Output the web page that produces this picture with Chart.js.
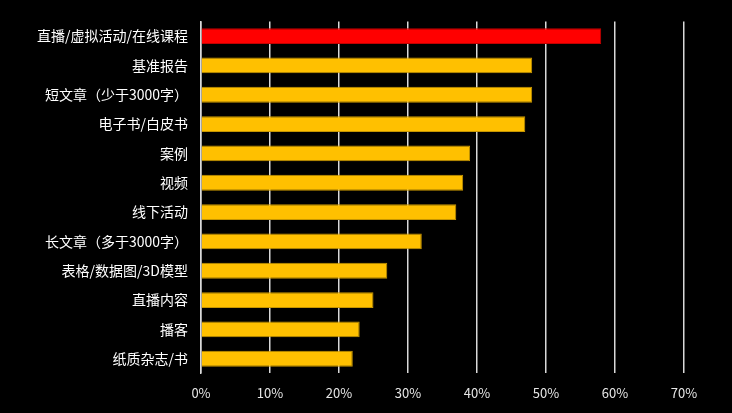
<!DOCTYPE html>
<html>
<head>
  <meta charset="utf-8">
  <title>内容形式</title>
  <script type="text/javascript" src="https://cdn.jsdelivr.net/npm/chart.js"></script>
  <style>
    html, body { margin: 0; padding: 0; background: #000; }
    #chart-container { width: 732px; height: 413px; }
  </style>
</head>
<body>
  <div id="chart-container">
    <canvas id="content-chart"></canvas>
  </div>

  <script type="text/javascript">
    const categories = [
      "直播/虚拟活动/在线课程",
      "基准报告",
      "短文章（少于3000字）",
      "电子书/白皮书",
      "案例",
      "视频",
      "线下活动",
      "长文章（多于3000字）",
      "表格/数据图/3D模型",
      "直播内容",
      "播客",
      "纸质杂志/书"
    ];
    const shares = [58, 48, 48, 47, 39, 38, 37, 32, 27, 25, 23, 22];
    const tickValues = [0, 10, 20, 30, 40, 50, 60, 70];

    const fontFamily = '"Microsoft YaHei", "Noto Sans CJK SC", sans-serif';

    var fills = shares.map((v, i) => i === 0 ? "#ff0000" : "#ffc000");
    var edges = shares.map((v, i) => i === 0 ? "#c00000" : "#c69500");

    const ctx = document.getElementById("content-chart");
    new Chart(ctx, {
      type: "bar",
      data: {
        labels: categories,
        datasets: [{
          data: shares,
          backgroundColor: fills,
          borderColor: edges,
          borderWidth: 1,
          categoryPercentage: 1.0,
          barPercentage: 0.54
        }]
      },
      options: {
        indexAxis: "y",
        responsive: true,
        maintainAspectRatio: false,
        animation: false,
        layout: {
          padding: { left: 24, right: 48, top: 20, bottom: 0 }
        },
        plugins: {
          legend: { display: false },
          tooltip: { enabled: false }
        },
        scales: {
          x: {
            min: 0,
            max: 70,
            afterBuildTicks: function(axis) {
              axis.ticks = tickValues.map(v => ({ value: v }));
            },
            grid: {
              color: "#d9d9d9",
              lineWidth: 1.5,
              drawTicks: false
            },
            border: { display: false },
            ticks: {
              color: "#e6e6e6",
              padding: 12,
              font: { family: fontFamily, size: 13 },
              callback: function(value) { return value + "%"; }
            }
          },
          y: {
            grid: { display: false, drawTicks: false },
            border: { display: true, color: "#d9d9d9", width: 1.5 },
            ticks: {
              color: "#ffffff",
              padding: 13,
              font: { family: fontFamily, size: 14 }
            }
          }
        }
      }
    });
  </script>
</body>
</html>
